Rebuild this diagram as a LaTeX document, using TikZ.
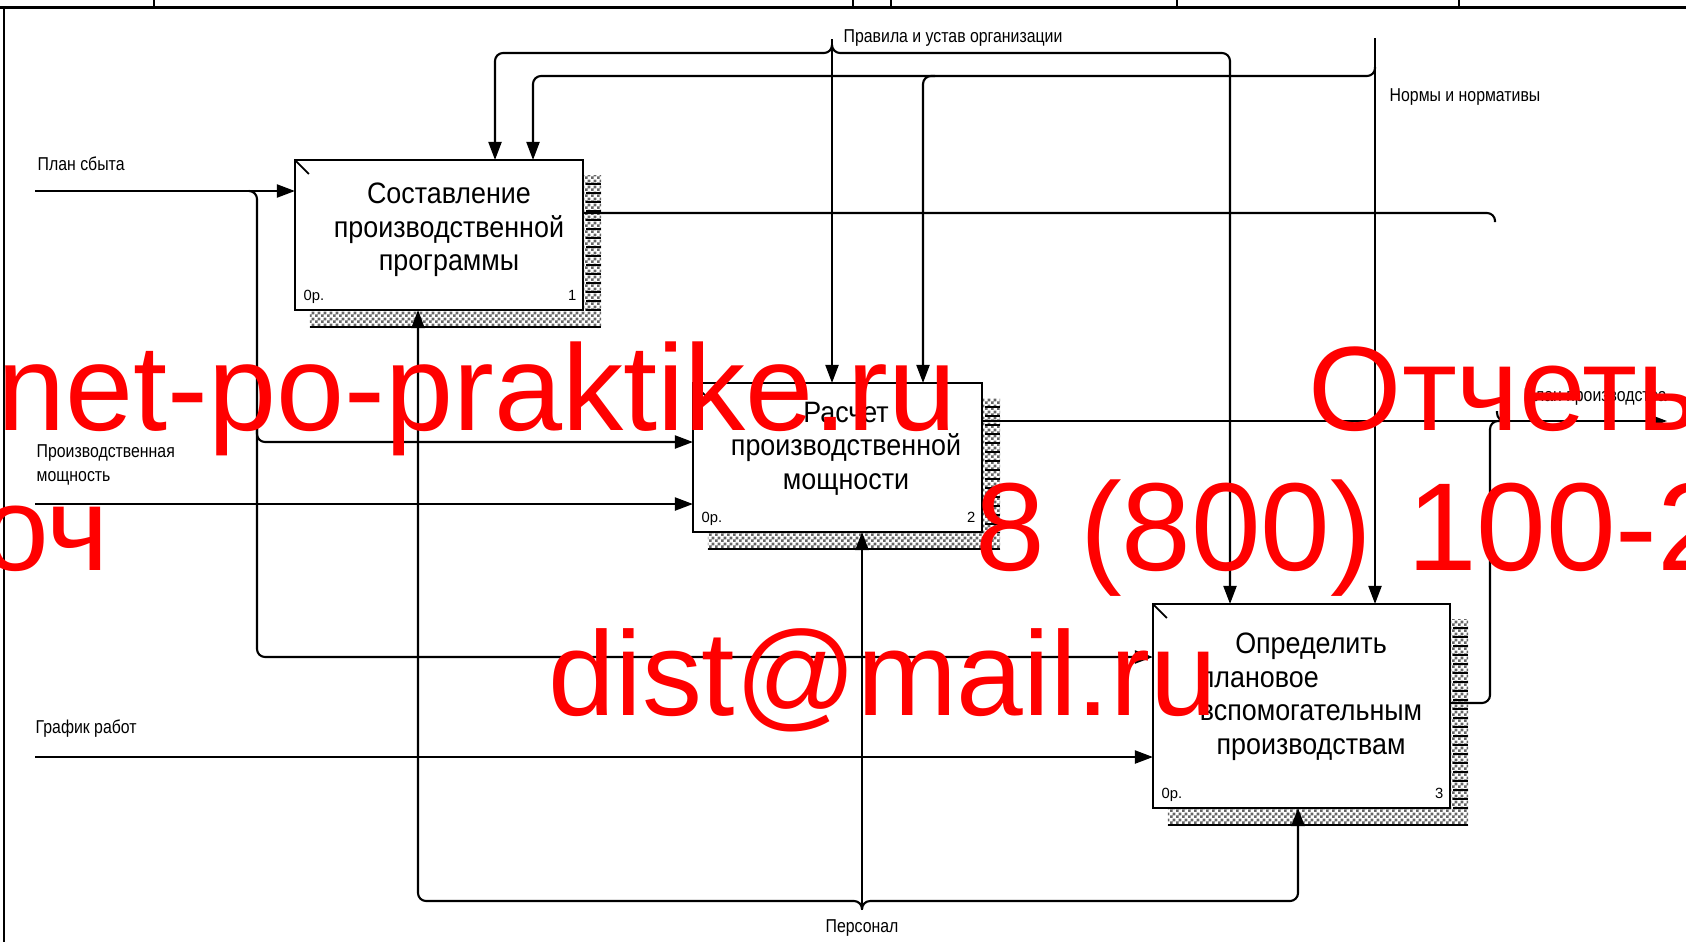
\documentclass[tikz,border=0pt]{standalone}
\usepackage{fontspec}
\newfontfamily\idef[FakeStretch=0.85]{Liberation Sans}
\newfontfamily\idefbox[FakeStretch=0.91]{Liberation Sans}
\newfontfamily\wmfont{Liberation Sans}
\usetikzlibrary{arrows.meta, patterns, backgrounds}
\pgfdeclarepatternformonly{idefhatch}{\pgfpointorigin}{\pgfqpoint{1.6pt}{1.6pt}}{\pgfqpoint{1.6pt}{1.6pt}}{%
  \pgfpathrectangle{\pgfpointorigin}{\pgfqpoint{0.8pt}{0.8pt}}%
  \pgfpathrectangle{\pgfqpoint{0.8pt}{0.8pt}}{\pgfqpoint{0.8pt}{0.8pt}}%
  \pgfusepath{fill}}

\begin{document}
\begin{tikzpicture}[x=0.01cm, y=-0.01cm,
    box/.style={draw, line width=0.7pt, fill=white, inner sep=0pt, outer sep=0pt},
    boxtext/.style={font=\idefbox\fontsize{8.4}{9.6}\selectfont, align=center, inner sep=0pt, anchor=north},
    num/.style={font=\wmfont\fontsize{4.2}{5}\selectfont, inner sep=0pt},
    lbl/.style={font=\idef\fontsize{5.3}{6.7}\selectfont, inner sep=0pt, anchor=base west},
    line/.style={line width=0.6pt, rounded corners=0.08cm},
    flow/.style={line, -{Triangle[length=0.18cm, width=0.13cm]}},
    wm/.style={text=red, font=\wmfont\fontsize{34.1}{40}\selectfont, inner sep=0pt, anchor=base west}]
  \useasboundingbox (0,0) rectangle (1686,942);

  % frame
  \draw[line width=1pt] (0,7.5) -- (1686,7.5);
  \draw[line width=0.8pt] (4,7.5) -- (4,942);
  \foreach \x in {154,853,891,1177,1459}
    \draw[line width=0.6pt] (\x,0) -- (\x,7.5);

  % activity boxes
  \node[box, minimum width=2.88cm, minimum height=1.5cm] (b1) at (439,235) {};
  \node[box, minimum width=2.89cm, minimum height=1.49cm] (b2) at (837.5,457.5) {};
  \node[box, minimum width=2.97cm, minimum height=2.04cm] (b3) at (1301.5,706) {};

  \node[boxtext] (t1) at (449,182) {Составление\\производственной\\программы};
  \node[boxtext] (t2) at (846,401) {Расчет\\производственной\\мощности};
  \node[boxtext] (t3) at (1311,632) {Определить\\\makebox[0pt][l]{плановое}\phantom{вспомогательным}\\вспомогательным\\производствам};

  \foreach \b/\n in {b1/1,b2/2,b3/3} {
    \draw[line width=0.5pt] (\b.north west) -- ++(14,14);
    \node[num, anchor=base west] (c\n) at ([shift={(8,-9.5)}]\b.south west) {0р.};
    \node[num, anchor=base east] (n\n) at ([shift={(-6,-9.5)}]\b.south east) {\n};
  }

  % shadows
  \begin{scope}[on background layer]
    \foreach \b in {b1,b2,b3} {
      \fill[pattern=idefhatch, pattern color=black!60] ([shift={(15,16)}]\b.north west) rectangle ([shift={(18,17)}]\b.south east);
      \draw[line width=0.7pt] ([shift={(15,17)}]\b.south west) -- ([shift={(18,17)}]\b.south east);
      \begin{scope}
        \clip ([shift={(3,16)}]\b.north east) rectangle ([shift={(18,0)}]\b.south east);
        \foreach \k in {0,...,24}
          \draw[line width=0.65pt] ([shift={(3,{24+9*\k})}]\b.north east) -- ++(15,0);
      \end{scope}
    }
  \end{scope}

  % free ends
  \coordinate (srcPlan) at (35,191);
  \coordinate (srcCap) at (35,504);
  \coordinate (srcSched) at (35,757);
  \coordinate (srcRules) at (832,39);
  \coordinate (srcNorms) at (1375,38);
  \coordinate (srcStaff) at (862,910);
  \coordinate (dstOut) at (1667,421);
  \coordinate (endProg) at (1495,222);

  % inputs
  \draw[flow] (srcPlan) -- (srcPlan -| b1.west);
  \draw[flow] (249,191) -| (257,657) -- (b3.west |- 0,657);
  \draw[flow] (257,425) |- (b2.west |- 0,442);
  \draw[flow] (srcCap) -- (srcCap -| b2.west);
  \draw[flow] (srcSched) -- (srcSched -| b3.west);

  % controls
  \draw[flow] (srcRules) -- (srcRules |- b2.north);
  \draw[flow] (srcRules |- 0,45) |- (495,53) -- (495,0 |- b1.north);
  \draw[flow] (srcRules |- 0,45) |- (1230,53) -- (1230,0 |- b3.north);
  \draw[flow] (srcNorms) -- (srcNorms |- b3.north);
  \draw[flow] (srcNorms |- 0,67) |- (533,76) -- (533,0 |- b1.north);
  \draw[flow] (935,76) -| (923,0 |- b2.north);

  % mechanisms
  \draw[flow] (srcStaff) -- (srcStaff |- b2.south);
  \draw[flow] (srcStaff |- 0,909) |- (418,901) -- (418,0 |- b1.south);
  \draw[flow] (srcStaff |- 0,909) |- (1298,901) -- (1298,0 |- b3.south);

  % outputs
  \draw[line] (b1.east |- 0,213) -| (endProg);
  \draw[line] (1497,411) |- (1507,421);
  \draw[flow] (b2.east |- 0,421) -- (dstOut);
  \draw[line] (b3.east |- 0,703) -| (1490,421) -- (1505,421);

  % arrow labels
  \node[lbl] (lRules) at (843,42) {Правила и устав организации};
  \node[lbl] (lNorms) at (1389,101) {Нормы и нормативы};
  \node[lbl] (lStaff) at (825,932) {Персонал};
  \node[lbl] (lPlan) at (37,170) {План сбыта};
  \node[lbl, anchor=north west, align=left] (lCap) at (36,444) {Производственная\\мощность};
  \node[lbl] (lSched) at (35,733) {График работ};
  \node[lbl] (lOut) at (1523,401) {План производства};

  % watermark
  \node[wm, font=\wmfont\fontsize{34.8}{40}\selectfont] (w1) at (-3,430) {net-po-praktike.ru};
  \node[wm] (w2) at (1308,430) {Отчеты};
  \node[wm, font=\wmfont\fontsize{35.6}{40}\selectfont] (w3) at (975,570) {8 (800) 100-2};
  \node[wm, anchor=base east] (w4) at (110,570) {оч};
  \node[wm] (w5) at (548,715) {dist@mail.ru};
\end{tikzpicture}
\end{document}
